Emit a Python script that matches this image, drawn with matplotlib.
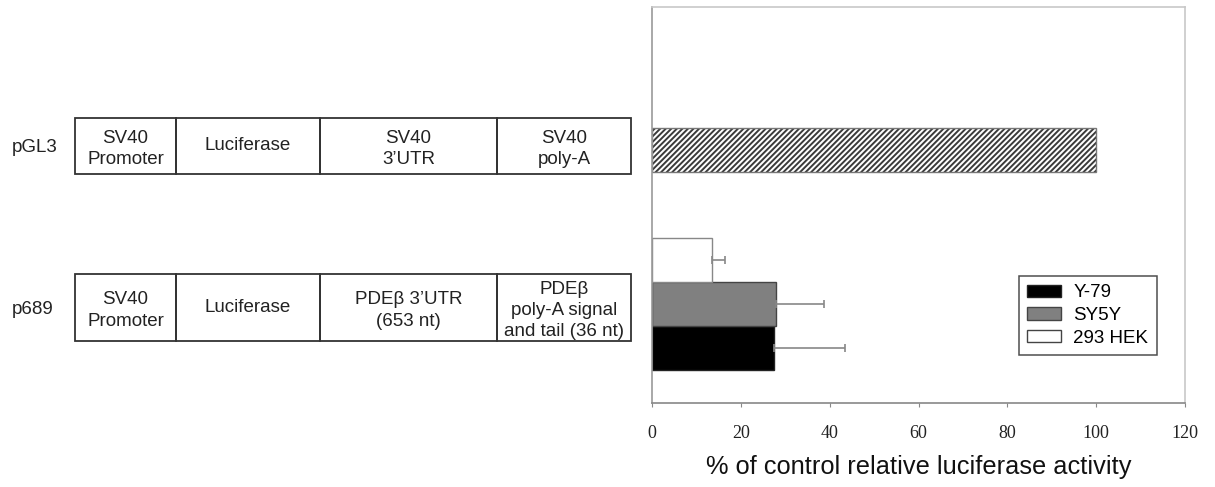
import matplotlib
matplotlib.use('Agg')
import matplotlib.pyplot as plt
from matplotlib.patches import Rectangle, Patch
import numpy as np

# ---------------- data ----------------
constructs = ['pGL3', 'p689']
cell_lines = ['Y-79', 'SY5Y', '293 HEK']
pgl3_value = 100
p689_values = [27.5, 27.9, 13.4]
p689_errors = [16.0, 10.9, 3.0]
xticks = [0, 20, 40, 60, 80, 100, 120]
xlabel_text = '% of control relative luciferase activity'
pgl3_segments = ['SV40\nPromoter', 'Luciferase', 'SV40\n3’UTR', 'SV40\npoly-A']
p689_segments = ['SV40\nPromoter', 'Luciferase', 'PDEβ 3’UTR\n(653 nt)',
                 'PDEβ\npoly-A signal\nand tail (36 nt)']

# ---------------- layout / style ----------------
W, H = 1215, 487
segment_edges = [75, 176, 320, 497, 631]          # diagram layout (pixels)
row_spans = {'pGL3': (118, 174), 'p689': (274, 341)}
label_y = {'pGL3': 147, 'p689': 309}
bar_colors = ['black', '#808080', 'white']
bar_edges = ['#222222', '#444444', '#888888']

plt.rcParams['hatch.linewidth'] = 1.4
sans = 'Liberation Sans'
serif = 'Liberation Serif'

fig = plt.figure(figsize=(W / 100, H / 100), dpi=100)

# diagram overlay in pixel coordinates
diag = fig.add_axes([0, 0, 1, 1])
diag.set_xlim(0, W)
diag.set_ylim(H, 0)
diag.axis('off')
for name, segs in zip(constructs, [pgl3_segments, p689_segments]):
    y0, y1 = row_spans[name]
    for i, txt in enumerate(segs):
        x0, x1 = segment_edges[i], segment_edges[i + 1]
        diag.add_patch(Rectangle((x0, y0), x1 - x0, y1 - y0, fill=False,
                                 edgecolor='#333333', linewidth=1.3))
        dy = 3 if '\n' in txt else 0
        diag.text((x0 + x1) / 2, (y0 + y1) / 2 + dy, txt, ha='center', va='center',
                  fontsize=13.5, family=sans, color='#222222', linespacing=1.32)
    diag.text(12, label_y[name], name, ha='left', va='center', fontsize=13.5,
              family=sans, color='#222222')

# bar chart
ax = fig.add_axes([652 / W, 1 - 403 / H, (1185 - 652) / W, 396 / H])
ax.set_xlim(0, 120)
ax.set_ylim(0, 9)
pgl3_pos = 5.75
group_pos = 2.25
offsets = np.array([-1, 0, 1])

ax.barh(pgl3_pos, pgl3_value, height=1, facecolor='white', edgecolor='#3a3a3a',
        hatch='//////', linewidth=0)
ax.barh(pgl3_pos, pgl3_value, height=1, fill=False, edgecolor='#777777', linewidth=1)

pos = group_pos + offsets
for p, v, c, e, lab in zip(pos, p689_values, bar_colors, bar_edges, cell_lines):
    ax.barh(p, v, height=1, color=c, edgecolor=e, linewidth=1, label=lab)
ax.errorbar(p689_values, pos, xerr=[np.zeros(3), p689_errors], fmt='none',
            ecolor='#888888', elinewidth=1.2, capsize=3, capthick=1.2)

ax.set_xticks(xticks)
ax.set_xticklabels([str(t) for t in xticks], family=serif, fontsize=13, color='#222222')
ax.tick_params(axis='x', direction='out', length=3, color='#888888', pad=13)
ax.set_yticks([])
ax.spines['left'].set_color('#999999')
ax.spines['bottom'].set_color('#888888')
ax.spines['top'].set_color('#c8c8c8')
ax.spines['right'].set_color('#c8c8c8')
for s in ax.spines.values():
    s.set_linewidth(1.2)
ax.set_xlabel(xlabel_text, family=sans, fontsize=18.3, labelpad=9, color='#111111')

handles = [Patch(facecolor=c, edgecolor=e if c != 'white' else '#444444', linewidth=1)
           for c, e in zip(bar_colors, bar_edges)]
leg = ax.legend(handles, cell_lines, loc='upper left',
                bbox_to_anchor=(1019 / W, 1 - 276 / H), bbox_transform=fig.transFigure,
                prop={'family': sans, 'size': 13.5}, frameon=True, fancybox=False,
                edgecolor='#222222', handlelength=1.8, handleheight=0.65,
                labelspacing=0.3, borderpad=0.45, handletextpad=0.65, borderaxespad=0)
leg.get_frame().set_linewidth(1.1)

fig.savefig('out.png', dpi=100)
